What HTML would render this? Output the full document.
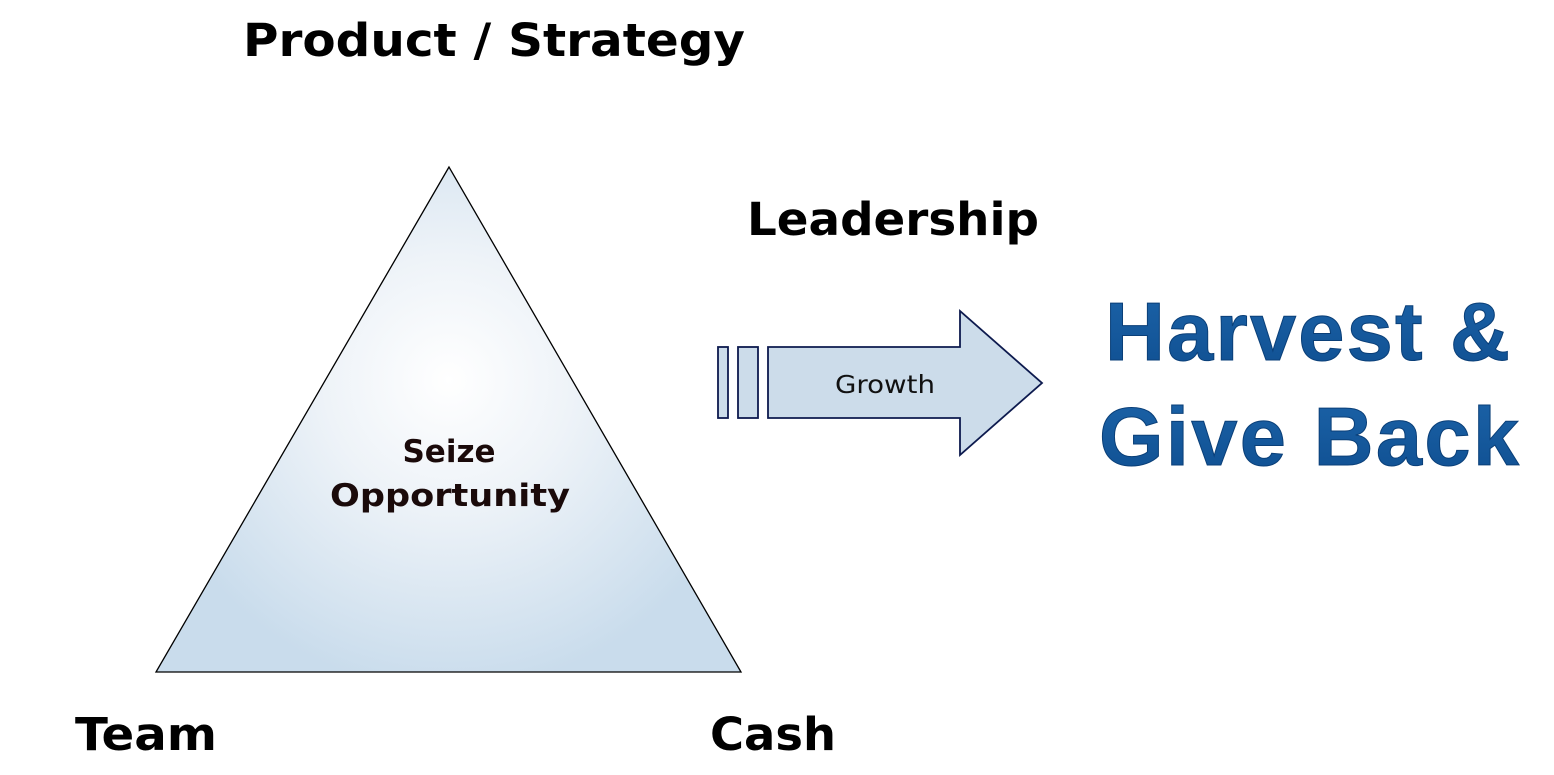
<!DOCTYPE html>
<html><head><meta charset="utf-8"><style>html,body{margin:0;padding:0;background:#fff;}svg{display:block;}</style></head>
<body>
<svg width="1554" height="775" viewBox="0 0 1554 775">
<defs>
<radialGradient id="tg" cx="449" cy="380" r="310" gradientUnits="userSpaceOnUse">
<stop offset="0" stop-color="#ffffff"/><stop offset="0.4" stop-color="#eef3f8"/><stop offset="1" stop-color="#c9dcec"/>
</radialGradient>
<linearGradient id="hg" x1="0" y1="0" x2="0" y2="1"><stop offset="0" stop-color="#1c63a8"/><stop offset="1" stop-color="#0f4f91"/></linearGradient>
</defs>
<g font-family="DejaVu Sans, Verdana, sans-serif" font-weight="bold" fill="#000">
<text x="243" y="56" font-size="45" textLength="502" lengthAdjust="spacingAndGlyphs">Product / Strategy</text>
<text x="747" y="235" font-size="45" textLength="292" lengthAdjust="spacingAndGlyphs">Leadership</text>
<text x="75" y="750" font-size="45" textLength="142" lengthAdjust="spacingAndGlyphs">Team</text>
<text x="710" y="750" font-size="45" textLength="126" lengthAdjust="spacingAndGlyphs">Cash</text>
</g>
<polygon points="449,167 156,672 741,672" fill="url(#tg)" stroke="#000" stroke-width="1.3"/>
<g font-family="DejaVu Sans, Verdana, sans-serif" font-weight="bold" fill="#1a0a0a" text-anchor="middle">
<text x="449" y="462" font-size="31">Seize</text>
<text x="450" y="506" font-size="31" textLength="240" lengthAdjust="spacingAndGlyphs">Opportunity</text>
</g>
<g fill="#ccdcea" stroke="#0d1a4e" stroke-width="1.8">
<rect x="718" y="347" width="10" height="71"/>
<rect x="738" y="347" width="20" height="71"/>
<polygon points="768,347 960,347 960,311 1042,383 960,455 960,418 768,418"/>
</g>
<text x="835" y="393" font-family="DejaVu Sans, Verdana, sans-serif" font-size="25" textLength="100" lengthAdjust="spacingAndGlyphs" fill="#111">Growth</text>
<g font-family="Liberation Sans, Arial, sans-serif" font-weight="bold" fill="url(#hg)" stroke="#0a3f78" stroke-width="1">
<text x="1105" y="360" font-size="83" textLength="405" lengthAdjust="spacing">Harvest &amp;</text>
<text x="1099" y="465" font-size="83" textLength="420" lengthAdjust="spacing">Give Back</text>
</g>
</svg>
</body></html>
